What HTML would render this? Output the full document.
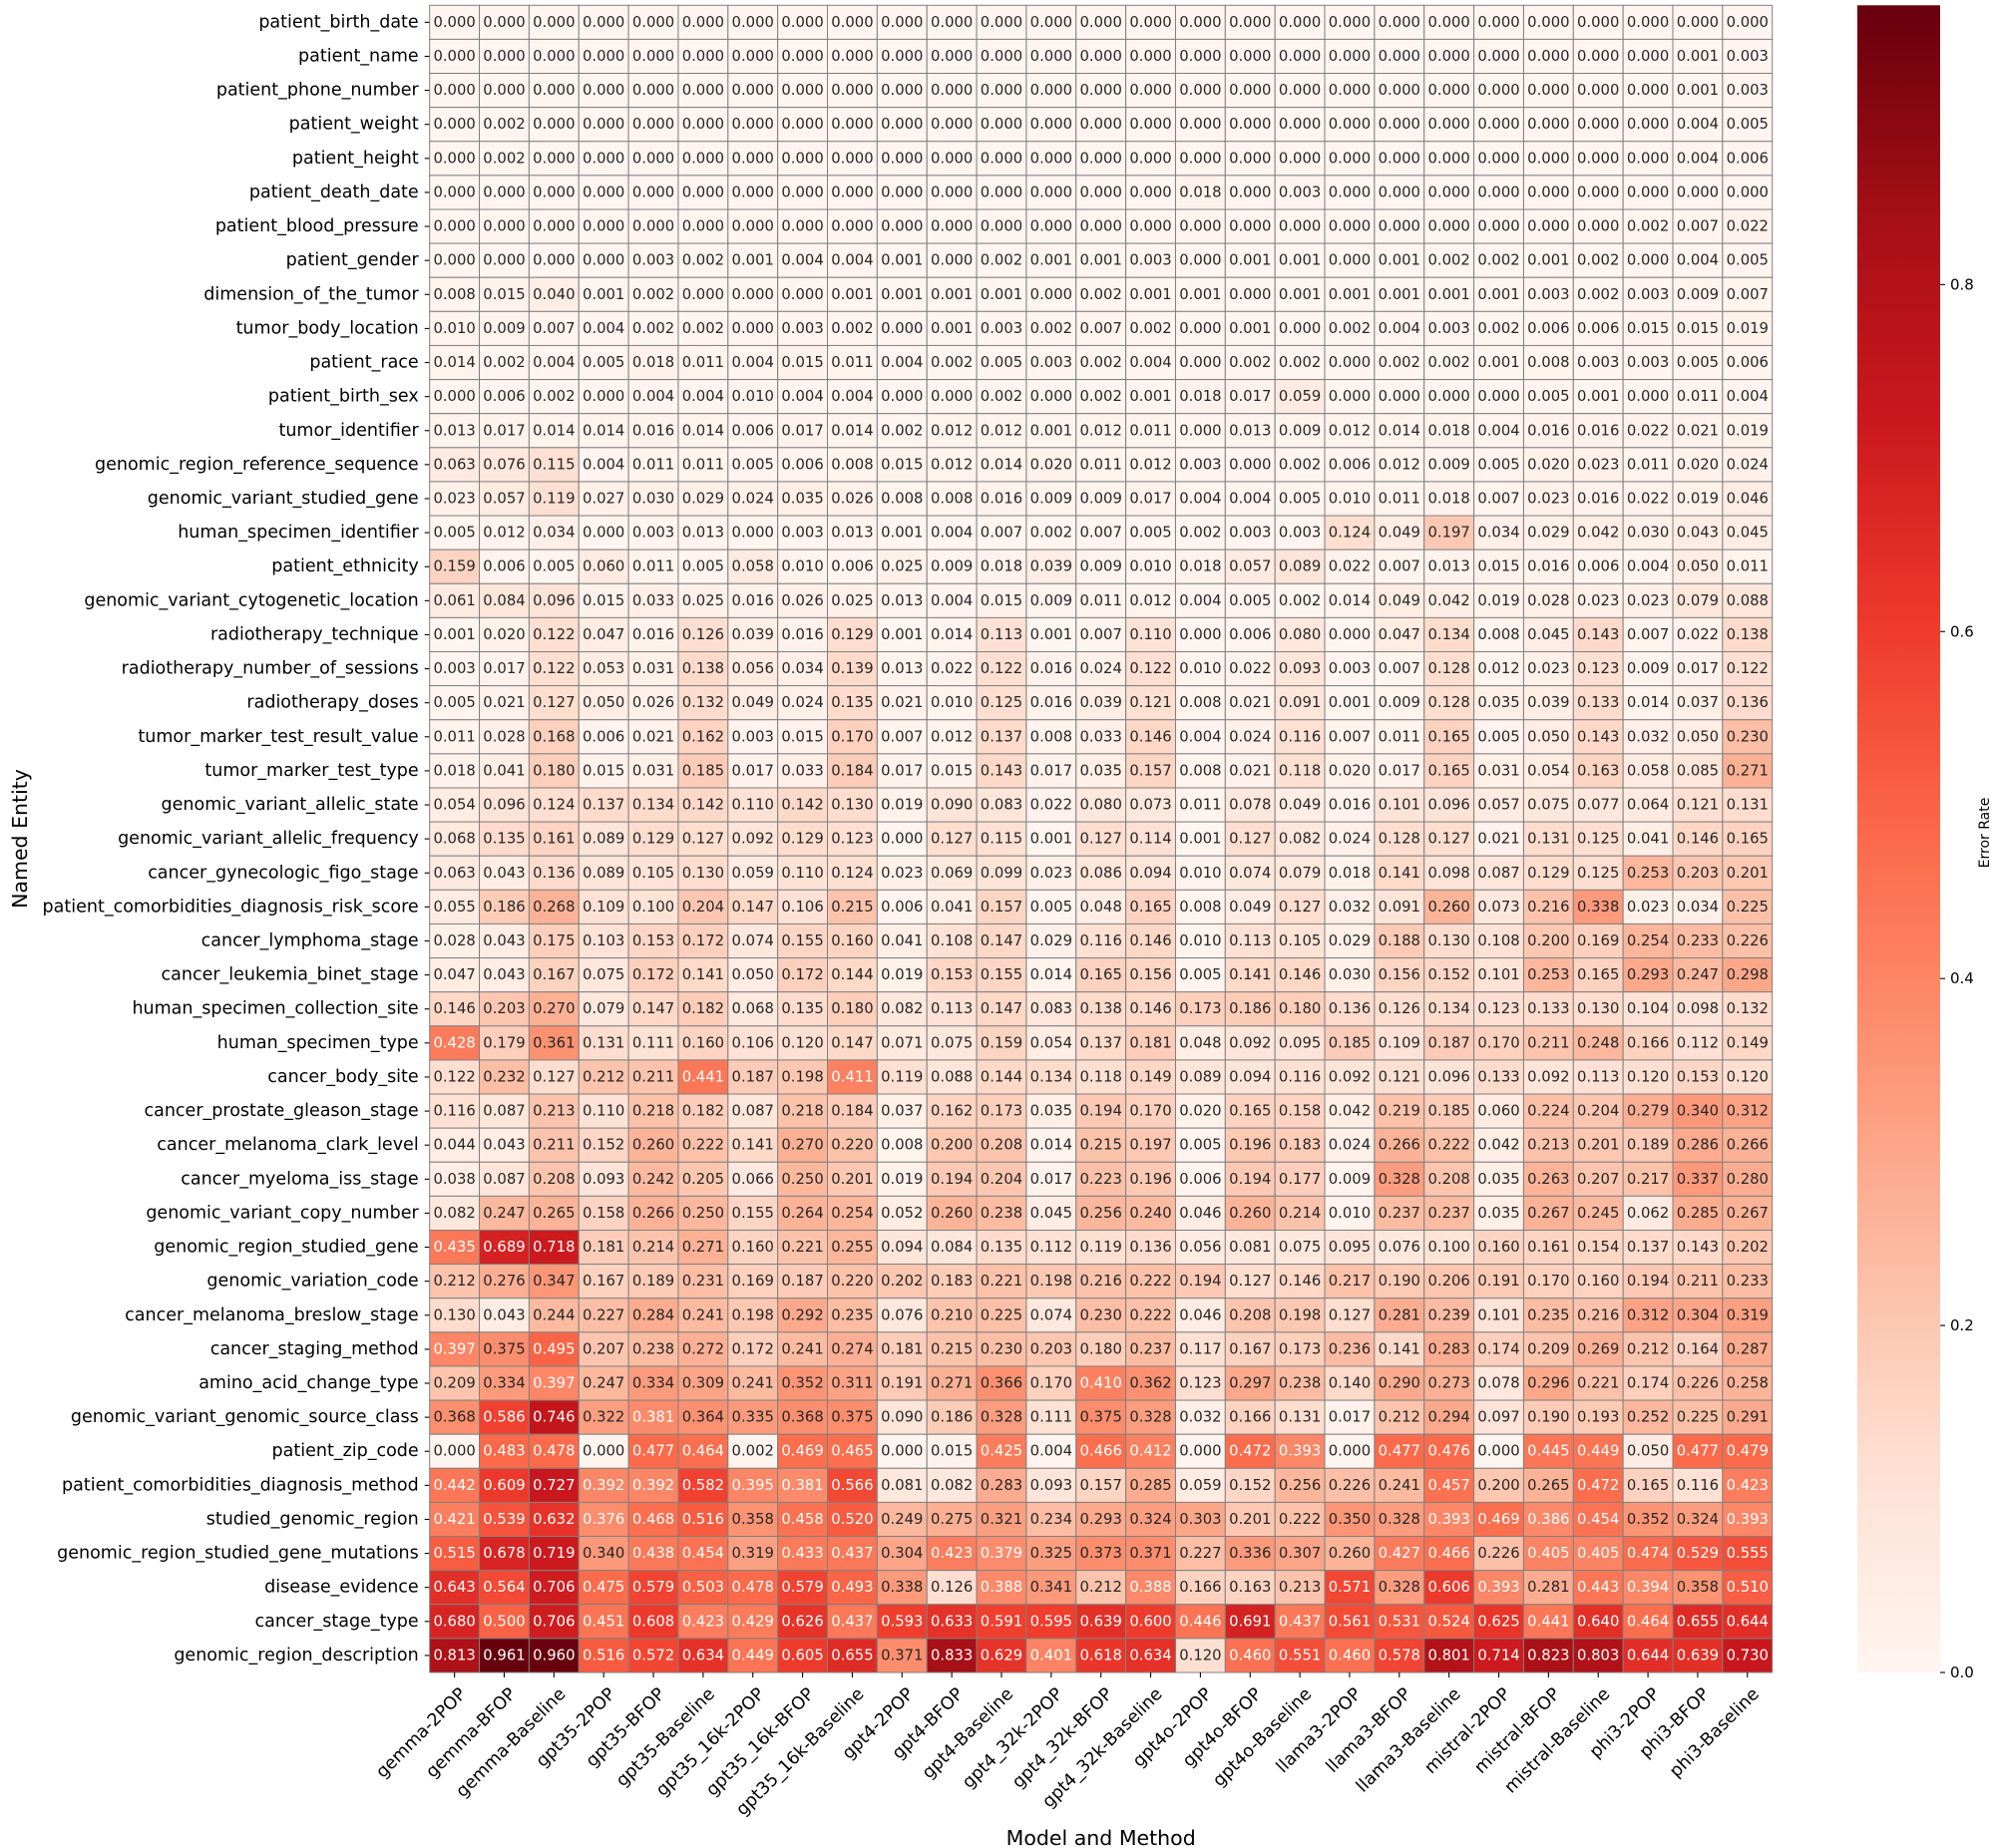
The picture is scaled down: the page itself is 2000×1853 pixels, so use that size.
<!DOCTYPE html>
<html><head><meta charset="utf-8"><style>
html,body{margin:0;padding:0;background:#fff;}
svg{display:block;font-family:"DejaVu Sans","Liberation Sans",sans-serif;}
</style></head><body>
<svg id="s" width="2000" height="1853" viewBox="0 0 2000 1853" xmlns="http://www.w3.org/2000/svg">
<defs><linearGradient id="g" x1="0" y1="1" x2="0" y2="0">
<stop offset="0" stop-color="#fff5f0"/><stop offset="0.125" stop-color="#fee0d2"/><stop offset="0.25" stop-color="#fcbba1"/><stop offset="0.375" stop-color="#fc9272"/><stop offset="0.5" stop-color="#fb6a4a"/><stop offset="0.625" stop-color="#ef3b2c"/><stop offset="0.75" stop-color="#cb181d"/><stop offset="0.875" stop-color="#a50f15"/><stop offset="1" stop-color="#67000d"/>
</linearGradient></defs>
<g id="cells"></g>
<rect x="1862" y="5.3" width="83" height="1671.7" fill="url(#g)"/>
<text x="20" y="841" font-size="20.5" text-anchor="middle" dominant-baseline="central" transform="rotate(-90 20 841)">Named Entity</text>
<text x="1103.7" y="1850" font-size="20.5" text-anchor="middle">Model and Method</text>
<text x="1990" y="835" font-size="14" text-anchor="middle" dominant-baseline="central" transform="rotate(-90 1990 835)">Error Rate</text>
</svg>
<script>
const cols="gemma-2POP gemma-BFOP gemma-Baseline gpt35-2POP gpt35-BFOP gpt35-Baseline gpt35_16k-2POP gpt35_16k-BFOP gpt35_16k-Baseline gpt4-2POP gpt4-BFOP gpt4-Baseline gpt4_32k-2POP gpt4_32k-BFOP gpt4_32k-Baseline gpt4o-2POP gpt4o-BFOP gpt4o-Baseline llama3-2POP llama3-BFOP llama3-Baseline mistral-2POP mistral-BFOP mistral-Baseline phi3-2POP phi3-BFOP phi3-Baseline".split(" ");
const rows=[
["patient_birth_date","0 0 0 0 0 0 0 0 0 0 0 0 0 0 0 0 0 0 0 0 0 0 0 0 0 0 0"],
["patient_name","0 0 0 0 0 0 0 0 0 0 0 0 0 0 0 0 0 0 0 0 0 0 0 0 0 .001 .003"],
["patient_phone_number","0 0 0 0 0 0 0 0 0 0 0 0 0 0 0 0 0 0 0 0 0 0 0 0 0 .001 .003"],
["patient_weight","0 .002 0 0 0 0 0 0 0 0 0 0 0 0 0 0 0 0 0 0 0 0 0 0 0 .004 .005"],
["patient_height","0 .002 0 0 0 0 0 0 0 0 0 0 0 0 0 0 0 0 0 0 0 0 0 0 0 .004 .006"],
["patient_death_date","0 0 0 0 0 0 0 0 0 0 0 0 0 0 0 .018 0 .003 0 0 0 0 0 0 0 0 0"],
["patient_blood_pressure","0 0 0 0 0 0 0 0 0 0 0 0 0 0 0 0 0 0 0 0 0 0 0 0 .002 .007 .022"],
["patient_gender",".000 .000 .000 .000 .003 .002 .001 .004 .004 .001 .000 .002 .001 .001 .003 .000 .001 .001 .000 .001 .002 .002 .001 .002 .000 .004 .005"],
["dimension_of_the_tumor",".008 .015 .040 .001 .002 .000 .000 .000 .001 .001 .001 .001 .000 .002 .001 .001 .000 .001 .001 .001 .001 .001 .003 .002 .003 .009 .007"],
["tumor_body_location",".010 .009 .007 .004 .002 .002 .000 .003 .002 .000 .001 .003 .002 .007 .002 .000 .001 .000 .002 .004 .003 .002 .006 .006 .015 .015 .019"],
["patient_race",".014 .002 .004 .005 .018 .011 .004 .015 .011 .004 .002 .005 .003 .002 .004 .000 .002 .002 .000 .002 .002 .001 .008 .003 .003 .005 .006"],
["patient_birth_sex",".000 .006 .002 .000 .004 .004 .010 .004 .004 .000 .000 .002 .000 .002 .001 .018 .017 .059 .000 .000 .000 .000 .005 .001 .000 .011 .004"],
["tumor_identifier",".013 .017 .014 .014 .016 .014 .006 .017 .014 .002 .012 .012 .001 .012 .011 .000 .013 .009 .012 .014 .018 .004 .016 .016 .022 .021 .019"],
["genomic_region_reference_sequence",".063 .076 .115 .004 .011 .011 .005 .006 .008 .015 .012 .014 .020 .011 .012 .003 .000 .002 .006 .012 .009 .005 .020 .023 .011 .020 .024"],
["genomic_variant_studied_gene",".023 .057 .119 .027 .030 .029 .024 .035 .026 .008 .008 .016 .009 .009 .017 .004 .004 .005 .010 .011 .018 .007 .023 .016 .022 .019 .046"],
["human_specimen_identifier",".005 .012 .034 .000 .003 .013 .000 .003 .013 .001 .004 .007 .002 .007 .005 .002 .003 .003 .124 .049 .197 .034 .029 .042 .030 .043 .045"],
["patient_ethnicity",".159 .006 .005 .060 .011 .005 .058 .010 .006 .025 .009 .018 .039 .009 .010 .018 .057 .089 .022 .007 .013 .015 .016 .006 .004 .050 .011"],
["genomic_variant_cytogenetic_location",".061 .084 .096 .015 .033 .025 .016 .026 .025 .013 .004 .015 .009 .011 .012 .004 .005 .002 .014 .049 .042 .019 .028 .023 .023 .079 .088"],
["radiotherapy_technique",".001 .020 .122 .047 .016 .126 .039 .016 .129 .001 .014 .113 .001 .007 .110 .000 .006 .080 .000 .047 .134 .008 .045 .143 .007 .022 .138"],
["radiotherapy_number_of_sessions",".003 .017 .122 .053 .031 .138 .056 .034 .139 .013 .022 .122 .016 .024 .122 .010 .022 .093 .003 .007 .128 .012 .023 .123 .009 .017 .122"],
["radiotherapy_doses",".005 .021 .127 .050 .026 .132 .049 .024 .135 .021 .010 .125 .016 .039 .121 .008 .021 .091 .001 .009 .128 .035 .039 .133 .014 .037 .136"],
["tumor_marker_test_result_value",".011 .028 .168 .006 .021 .162 .003 .015 .170 .007 .012 .137 .008 .033 .146 .004 .024 .116 .007 .011 .165 .005 .050 .143 .032 .050 .230"],
["tumor_marker_test_type",".018 .041 .180 .015 .031 .185 .017 .033 .184 .017 .015 .143 .017 .035 .157 .008 .021 .118 .020 .017 .165 .031 .054 .163 .058 .085 .271"],
["genomic_variant_allelic_state",".054 .096 .124 .137 .134 .142 .110 .142 .130 .019 .090 .083 .022 .080 .073 .011 .078 .049 .016 .101 .096 .057 .075 .077 .064 .121 .131"],
["genomic_variant_allelic_frequency",".068 .135 .161 .089 .129 .127 .092 .129 .123 .000 .127 .115 .001 .127 .114 .001 .127 .082 .024 .128 .127 .021 .131 .125 .041 .146 .165"],
["cancer_gynecologic_figo_stage",".063 .043 .136 .089 .105 .130 .059 .110 .124 .023 .069 .099 .023 .086 .094 .010 .074 .079 .018 .141 .098 .087 .129 .125 .253 .203 .201"],
["patient_comorbidities_diagnosis_risk_score",".055 .186 .268 .109 .100 .204 .147 .106 .215 .006 .041 .157 .005 .048 .165 .008 .049 .127 .032 .091 .260 .073 .216 .338 .023 .034 .225"],
["cancer_lymphoma_stage",".028 .043 .175 .103 .153 .172 .074 .155 .160 .041 .108 .147 .029 .116 .146 .010 .113 .105 .029 .188 .130 .108 .200 .169 .254 .233 .226"],
["cancer_leukemia_binet_stage",".047 .043 .167 .075 .172 .141 .050 .172 .144 .019 .153 .155 .014 .165 .156 .005 .141 .146 .030 .156 .152 .101 .253 .165 .293 .247 .298"],
["human_specimen_collection_site",".146 .203 .270 .079 .147 .182 .068 .135 .180 .082 .113 .147 .083 .138 .146 .173 .186 .180 .136 .126 .134 .123 .133 .130 .104 .098 .132"],
["human_specimen_type",".428 .179 .361 .131 .111 .160 .106 .120 .147 .071 .075 .159 .054 .137 .181 .048 .092 .095 .185 .109 .187 .170 .211 .248 .166 .112 .149"],
["cancer_body_site",".122 .232 .127 .212 .211 .441 .187 .198 .411 .119 .088 .144 .134 .118 .149 .089 .094 .116 .092 .121 .096 .133 .092 .113 .120 .153 .120"],
["cancer_prostate_gleason_stage",".116 .087 .213 .110 .218 .182 .087 .218 .184 .037 .162 .173 .035 .194 .170 .020 .165 .158 .042 .219 .185 .060 .224 .204 .279 .340 .312"],
["cancer_melanoma_clark_level",".044 .043 .211 .152 .260 .222 .141 .270 .220 .008 .200 .208 .014 .215 .197 .005 .196 .183 .024 .266 .222 .042 .213 .201 .189 .286 .266"],
["cancer_myeloma_iss_stage",".038 .087 .208 .093 .242 .205 .066 .250 .201 .019 .194 .204 .017 .223 .196 .006 .194 .177 .009 .328 .208 .035 .263 .207 .217 .337 .280"],
["genomic_variant_copy_number",".082 .247 .265 .158 .266 .250 .155 .264 .254 .052 .260 .238 .045 .256 .240 .046 .260 .214 .010 .237 .237 .035 .267 .245 .062 .285 .267"],
["genomic_region_studied_gene",".435 .689 .718 .181 .214 .271 .160 .221 .255 .094 .084 .135 .112 .119 .136 .056 .081 .075 .095 .076 .100 .160 .161 .154 .137 .143 .202"],
["genomic_variation_code",".212 .276 .347 .167 .189 .231 .169 .187 .220 .202 .183 .221 .198 .216 .222 .194 .127 .146 .217 .190 .206 .191 .170 .160 .194 .211 .233"],
["cancer_melanoma_breslow_stage",".130 .043 .244 .227 .284 .241 .198 .292 .235 .076 .210 .225 .074 .230 .222 .046 .208 .198 .127 .281 .239 .101 .235 .216 .312 .304 .319"],
["cancer_staging_method",".397 .375 .495 .207 .238 .272 .172 .241 .274 .181 .215 .230 .203 .180 .237 .117 .167 .173 .236 .141 .283 .174 .209 .269 .212 .164 .287"],
["amino_acid_change_type",".209 .334 .397 .247 .334 .309 .241 .352 .311 .191 .271 .366 .170 .410 .362 .123 .297 .238 .140 .290 .273 .078 .296 .221 .174 .226 .258"],
["genomic_variant_genomic_source_class",".368 .586 .746 .322 .381 .364 .335 .368 .375 .090 .186 .328 .111 .375 .328 .032 .166 .131 .017 .212 .294 .097 .190 .193 .252 .225 .291"],
["patient_zip_code",".000 .483 .478 .000 .477 .464 .002 .469 .465 .000 .015 .425 .004 .466 .412 .000 .472 .393 .000 .477 .476 .000 .445 .449 .050 .477 .479"],
["patient_comorbidities_diagnosis_method",".442 .609 .727 .392 .392 .582 .395 .381 .566 .081 .082 .283 .093 .157 .285 .059 .152 .256 .226 .241 .457 .200 .265 .472 .165 .116 .423"],
["studied_genomic_region",".421 .539 .632 .376 .468 .516 .358 .458 .520 .249 .275 .321 .234 .293 .324 .303 .201 .222 .350 .328 .393 .469 .386 .454 .352 .324 .393"],
["genomic_region_studied_gene_mutations",".515 .678 .719 .340 .438 .454 .319 .433 .437 .304 .423 .379 .325 .373 .371 .227 .336 .307 .260 .427 .466 .226 .405 .405 .474 .529 .555"],
["disease_evidence",".643 .564 .706 .475 .579 .503 .478 .579 .493 .338 .126 .388 .341 .212 .388 .166 .163 .213 .571 .328 .606 .393 .281 .443 .394 .358 .510"],
["cancer_stage_type",".680 .500 .706 .451 .608 .423 .429 .626 .437 .593 .633 .591 .595 .639 .600 .446 .691 .437 .561 .531 .524 .625 .441 .640 .464 .655 .644"],
["genomic_region_description",".813 .961 .960 .516 .572 .634 .449 .605 .655 .371 .833 .629 .401 .618 .634 .120 .460 .551 .460 .578 .801 .714 .823 .803 .644 .639 .730"]];
const stops=["fff5f0","fee0d2","fcbba1","fc9272","fb6a4a","ef3b2c","cb181d","a50f15","67000d"].map(h=>[0,2,4].map(i=>parseInt(h.substr(i,2),16)));
function cmap(t){t=Math.max(0,Math.min(1,t))*8;let i=Math.min(7,Math.floor(t)),f=t-i;return stops[i].map((c,k)=>c+(stops[i+1][k]-c)*f);}
function lum(c){const l=c.map(v=>{v/=255;return v<=0.03928?v/12.92:Math.pow((v+0.055)/1.055,2.4)});return .2126*l[0]+.7152*l[1]+.0722*l[2];}
const X0=430.7,Y0=5.3,CW=(1776.7-430.7)/27,RH=(1677-5.3)/49,VM=0.961;
let h="";
rows.forEach((r,ri)=>{const vals=r[1].split(" ").map(Number);const y=Y0+ri*RH;
 h+=`<text x="${X0-11}" y="${y+RH/2}" font-size="17.5" text-anchor="end" dominant-baseline="central">${r[0]}</text><line x1="${X0-5}" x2="${X0}" y1="${y+RH/2}" y2="${y+RH/2}" stroke="#000" stroke-width="1.1"/>`;
 vals.forEach((v,ci)=>{const c=cmap(v/VM);const x=X0+ci*CW;
  h+=`<rect x="${x}" y="${y}" width="${CW}" height="${RH}" fill="rgb(${c.map(Math.round).join(",")})" stroke="#808080" stroke-width="1"/>`;
  h+=`<text x="${x+CW/2}" y="${y+RH/2}" font-size="14.8" text-anchor="middle" dominant-baseline="central" fill="${lum(c)>.408?'#262626':'#fff'}">${v.toFixed(3)}</text>`;});});
cols.forEach((c,ci)=>{const x=X0+(ci+.5)*CW,y=1677;
 h+=`<line x1="${x}" x2="${x}" y1="${y}" y2="${y+5}" stroke="#000" stroke-width="1.1"/><text x="${x+4}" y="${y+14}" font-size="17.5" text-anchor="end" dominant-baseline="hanging" transform="rotate(-45 ${x+4} ${y+14})">${c}</text>`;});
[0,0.2,0.4,0.6,0.8].forEach(v=>{const y=1677-v/VM*1671.7;
 h+=`<line x1="1945" x2="1950" y1="${y}" y2="${y}" stroke="#000" stroke-width="1.1"/><text x="1955" y="${y}" font-size="15" dominant-baseline="central">${v.toFixed(1)}</text>`;});
document.getElementById("cells").innerHTML=h;
</script>
</body></html>
